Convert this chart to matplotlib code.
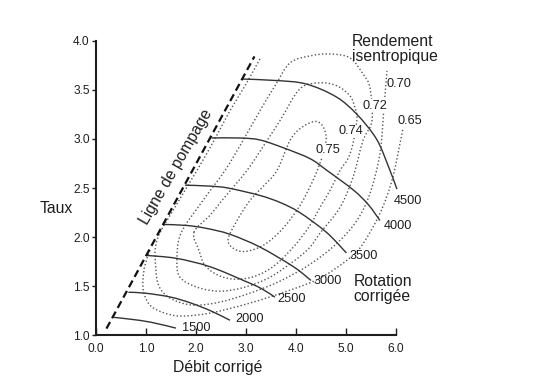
import matplotlib
matplotlib.use("Agg")
import matplotlib.pyplot as plt
from matplotlib.path import Path
from matplotlib.patches import PathPatch

plt.rcParams['font.family'] = ['Liberation Sans', 'DejaVu Sans']

# ---------------- data ----------------
x_ticks = [0.0, 1.0, 2.0, 3.0, 4.0, 5.0, 6.0]
y_ticks = [1.0, 1.5, 2.0, 2.5, 3.0, 3.5, 4.0]

# surge line (Ligne de pompage)
surge_x = [0.21, 3.17]
surge_y = [1.07, 3.84]

# corrected speed lines
n1500_x = [0.35, 0.70, 1.10, 1.60]
n1500_y = [1.185, 1.165, 1.135, 1.075]
n2000_x = [0.65, 1.00, 1.50, 1.90, 2.30, 2.68]
n2000_y = [1.44, 1.43, 1.39, 1.33, 1.25, 1.155]
n2500_x = [1.01, 1.61, 2.28, 2.95, 3.30, 3.58]
n2500_y = [1.815, 1.785, 1.70, 1.56, 1.48, 1.39]
n3000_x = [1.36, 1.81, 2.21, 2.68, 3.28, 3.95, 4.30]
n3000_y = [2.13, 2.12, 2.09, 2.03, 1.90, 1.70, 1.56]
n3500_x = [1.78, 2.28, 2.65, 3.28, 3.70, 4.08, 4.61, 5.01]
n3500_y = [2.53, 2.52, 2.50, 2.425, 2.35, 2.25, 2.05, 1.84]
n4000_x = [2.31, 2.88, 3.28, 3.75, 4.28, 4.62, 5.15, 5.45, 5.68]
n4000_y = [3.01, 3.01, 2.99, 2.91, 2.80, 2.68, 2.48, 2.33, 2.17]
n4500_x = [2.91, 3.60, 4.20, 4.80, 5.22, 5.61, 5.85, 6.02]
n4500_y = [3.61, 3.595, 3.56, 3.43, 3.25, 3.00, 2.72, 2.49]

speed_labels = ['1500', '2000', '2500', '3000', '3500', '4000', '4500']
speed_label_x = [2.01, 3.07, 3.91, 4.64, 5.36, 6.03, 6.23]
speed_label_y = [1.08, 1.172, 1.375, 1.558, 1.806, 2.116, 2.369]

# isentropic efficiency contours
e075_x = [2.64, 2.80, 3.08, 3.36, 3.62, 3.88, 4.08, 4.34, 4.50, 4.60, 4.58, 4.50,
          4.34, 4.08, 3.74, 3.38, 3.02, 2.78, 2.64]
e075_y = [1.969, 2.151, 2.374, 2.526, 2.679, 2.983, 3.104, 3.175, 3.155, 3.044, 2.902,
          2.780, 2.577, 2.323, 2.090, 1.928, 1.857, 1.877, 1.969]
e074_x = [1.96, 2.28, 2.52, 3.02, 3.38, 3.68, 4.08, 4.48, 4.82, 5.08, 5.18, 5.22, 5.14,
          5.04, 4.88, 4.68, 4.48, 4.28, 3.98, 3.58, 3.18, 2.78, 2.44, 2.18, 2.06, 1.96]
e074_y = [2.050, 2.222, 2.374, 2.679, 2.952, 3.186, 3.510, 3.571, 3.540, 3.439, 3.318,
          3.206, 2.952, 2.800, 2.679, 2.476, 2.303, 2.121, 1.918, 1.715, 1.603, 1.573,
          1.614, 1.715, 1.867, 2.050]
e072_x = [1.62, 1.70, 2.14, 2.58, 2.94, 3.28, 3.58, 3.88, 4.28, 4.68, 5.08, 5.34, 5.48,
          5.52, 5.34, 5.14, 4.88, 4.48, 4.28, 3.98, 3.48, 2.98, 2.48, 2.02, 1.68, 1.62]
e072_y = [1.766, 2.040, 2.374, 2.679, 2.983, 3.287, 3.540, 3.774, 3.845, 3.865, 3.825,
          3.662, 3.520, 3.186, 2.983, 2.608, 2.303, 2.040, 1.898, 1.766, 1.593, 1.492,
          1.451, 1.492, 1.593, 1.766]
e070_x = [3.28, 2.98, 2.68, 2.36, 2.02, 1.60, 1.22, 1.20, 1.28, 1.52, 1.94, 2.48, 3.08,
          3.68, 4.28, 4.82, 5.22, 5.48, 5.68, 5.76, 5.82]
e070_y = [3.815, 3.540, 3.287, 2.983, 2.679, 2.323, 1.969, 1.664, 1.482, 1.370, 1.309,
          1.340, 1.431, 1.553, 1.724, 1.938, 2.171, 2.445, 2.851, 3.318, 3.693]
e065_x = [1.08, 0.98, 0.94, 0.96, 1.08, 1.32, 1.68, 2.28, 3.08, 3.88, 4.48, 5.02, 5.32,
          5.68, 5.92, 6.08, 6.14]
e065_y = [1.867, 1.715, 1.563, 1.431, 1.309, 1.238, 1.198, 1.228, 1.330, 1.461, 1.583,
          1.766, 1.918, 2.242, 2.577, 2.952, 3.104]

eff_labels = ['0.75', '0.74', '0.72', '0.70', '0.65']
eff_label_x = [4.63, 5.10, 5.57, 6.05, 6.28]
eff_label_y = [2.886, 3.079, 3.338, 3.561, 3.186]


def smooth_curve(ax, xs, ys, **style):
    """Draw a smooth curve through the given points (Catmull-Rom as cubic Beziers)."""
    pts = list(zip(xs, ys))
    closed = pts[0] == pts[-1]
    if closed:
        pts = pts[:-1]
    n = len(pts)
    verts = [pts[0]]
    codes = [Path.MOVETO]
    segs = n if closed else n - 1
    for i in range(segs):
        p1 = pts[i]
        p2 = pts[(i + 1) % n]
        p0 = pts[i - 1] if (closed or i > 0) else p1
        p3 = pts[(i + 2) % n] if (closed or i + 2 < n) else p2
        c1 = (p1[0] + (p2[0] - p0[0]) / 6.0, p1[1] + (p2[1] - p0[1]) / 6.0)
        c2 = (p2[0] - (p3[0] - p1[0]) / 6.0, p2[1] - (p3[1] - p1[1]) / 6.0)
        verts += [c1, c2, p2]
        codes += [Path.CURVE4] * 3
    patch = PathPatch(Path(verts, codes), fill=False, clip_on=False, **style)
    ax.add_patch(patch)


# ---------------- figure ----------------
fig = plt.figure(figsize=(5.36, 3.79), dpi=100)
ax = fig.add_axes([0.179, 0.1148, 0.5597, 0.7778])

ink = '#1e1e1e'
ax.set_xlim(0, 6)
ax.set_ylim(1, 4)
ax.set_xticks(x_ticks)
ax.set_xticklabels([f'{v:.1f}' for v in x_ticks])
ax.set_yticks(y_ticks)
ax.set_yticklabels([f'{v:.1f}' for v in y_ticks])
for s in ('top', 'right'):
    ax.spines[s].set_visible(False)
for s in ('left', 'bottom'):
    ax.spines[s].set_linewidth(1.5)
    ax.spines[s].set_color(ink)
ax.tick_params(axis='x', direction='in', length=5, width=1.0, pad=5.5,
               labelsize=8.6, colors=ink)
ax.tick_params(axis='y', direction='out', length=3, width=1.0, pad=1.5,
               labelsize=8.6, colors=ink)

# efficiency contours
dot = dict(edgecolor='#555555', lw=1.0, linestyle=(0, (1, 1.6)))
for xs, ys in [(e065_x, e065_y), (e070_x, e070_y), (e072_x, e072_y),
               (e074_x, e074_y), (e075_x, e075_y)]:
    smooth_curve(ax, xs, ys, **dot)

# surge line
ax.plot(surge_x, surge_y, color='#111111', lw=1.6, linestyle=(0, (3.4, 1.9)),
        clip_on=False)

# speed lines
for xs, ys in [(n1500_x, n1500_y), (n2000_x, n2000_y), (n2500_x, n2500_y),
               (n3000_x, n3000_y), (n3500_x, n3500_y), (n4000_x, n4000_y),
               (n4500_x, n4500_y)]:
    smooth_curve(ax, xs, ys, edgecolor='#333333', lw=1.0)

for lab, lx, ly in zip(speed_labels, speed_label_x, speed_label_y):
    ax.text(lx, ly, lab, fontsize=9.2, color=ink, ha='center', va='center',
            clip_on=False)

for i, (lab, lx, ly) in enumerate(zip(eff_labels, eff_label_x, eff_label_y)):
    kw = {}
    if i < 3:
        kw['bbox'] = dict(boxstyle='square,pad=0.05', fc='white', ec='none')
    ax.text(lx, ly, lab, fontsize=9.2, color=ink, ha='center', va='center',
            zorder=5, clip_on=False, **kw)

ax.text(5.12, 3.916, 'Rendement\nisentropique', fontsize=11.3, color=ink,
        ha='left', va='center', linespacing=1.0, clip_on=False)
ax.text(5.15, 1.472, 'Rotation\ncorrigée', fontsize=11.3, color=ink,
        ha='left', va='center', linespacing=1.0, clip_on=False)
ax.text(1.61, 2.714, 'Ligne de pompage', fontsize=11.3, color=ink,
        rotation=60, rotation_mode='anchor', ha='center', va='center',
        clip_on=False)
ax.text(-0.46, 2.242, 'Taux', fontsize=11.3, color=ink, ha='right',
        va='baseline', clip_on=False)
ax.text(2.44, 0.63, 'Débit corrigé', fontsize=11.3, color=ink, ha='center',
        va='baseline', clip_on=False)

fig.savefig('out.png', dpi=100)
